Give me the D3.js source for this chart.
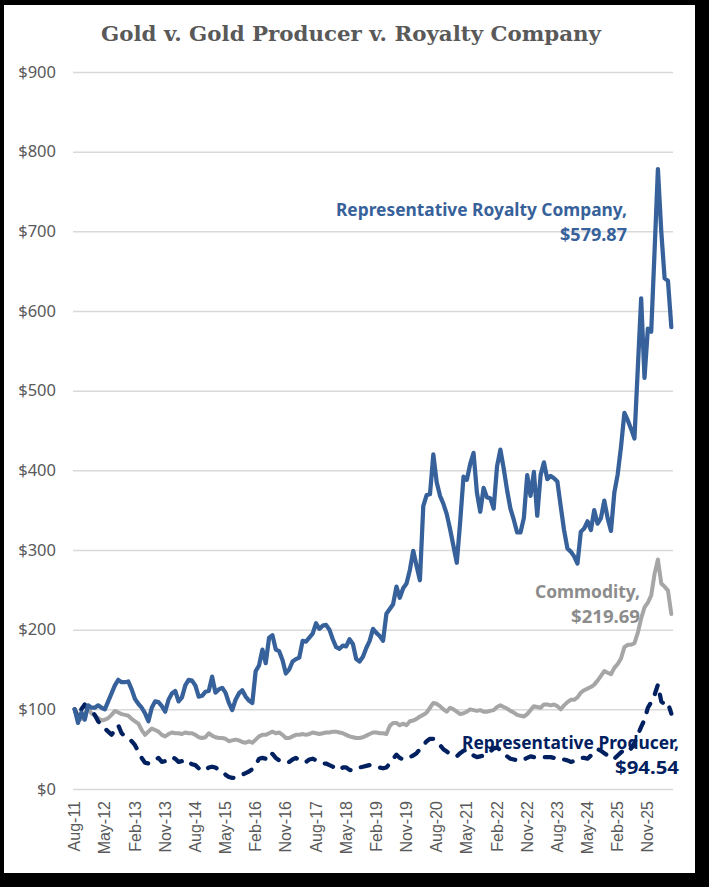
<!DOCTYPE html>
<html>
<head>
<meta charset="utf-8">
<script src="https://cdn.jsdelivr.net/npm/d3@7"></script>
<style>
  html, body { margin: 0; padding: 0; background: #000; }
  svg { display: block; }
</style>
</head>
<body>
<svg id="chart" width="709" height="887"></svg>
<script>
// ---------------- DATA ----------------
const startMonth = new Date(2011, 7, 1); // Aug-11, monthly observations
const tickLabels = ["Aug-11","May-12","Feb-13","Nov-13","Aug-14","May-15","Feb-16","Nov-16","Aug-17","May-18",
                    "Feb-19","Nov-19","Aug-20","May-21","Feb-22","Nov-22","Aug-23","May-24","Feb-25","Nov-25"];
const yTicks = [0,100,200,300,400,500,600,700,800,900];

const royalty = [
100,83,96,87,105,102,102,105,102,100,
110,120,130,137,134,134,135,125,113,107,
102,95,85,102,110,109,104,97,112,120,
123,110,115,130,137,136,130,116,117,122,
123,141,121,125,127,121,108,99,112,120,
124,116,111,108,148,155,175,158,190,193,
175,173,162,145,150,160,163,165,186,185,
190,195,208,201,205,206,200,188,178,176,
180,179,188,182,163,160,166,177,186,201,
196,192,186,220,226,232,254,240,252,258,
275,299,280,262,355,369,370,420,385,368,
358,345,326,305,284,335,392,388,408,422,
372,348,378,366,365,352,405,426,402,375,
352,338,322,322,340,394,368,398,343,394,
410,389,393,390,386,355,325,302,298,292,
283,323,327,336,325,350,333,340,362,340,
324,372,395,430,472,463,452,440,528,616,
516,578,574,675,778,700,641,638,579.87];

const commodity = [
100,93,88,95,100,95,92,89,86,87,
89,93,98,96,94,93,92,88,85,82,
74,68,72,76,74,72,68,66,69,71,
70,70,69,71,70,70,68,65,64,65,
70,67,65,64,64,63,60,61,62,61,
59,58,60,58,62,66,68,68,70,72,
70,71,68,64,64,66,68,68,69,68,
69,71,70,69,70,71,71,72,72,71,
70,68,66,65,64,64,65,67,69,71,
71,70,70,69,79,83,83,80,82,80,
85,86,88,91,93,96,102,108,107,104,
100,97,102,100,97,94,95,97,100,99,
98,99,97,97,98,99,103,105,103,101,
98,96,93,92,91,94,99,104,103,102,
106,106,105,106,104,100,105,109,112,112,
115,121,124,126,128,131,136,142,148,146,
144,152,157,164,178,181,181,183,196,214,
228,234,243,270,288,258,254,249,219.69];

const producer = [
100,88,100,106,100,98,93,85,80,76,
72,68,74,80,70,66,64,60,55,47,
39,33,32,34,37,39,34,35,37,40,
38,34,35,37,34,31,30,26,23,24,
27,28,27,24,22,18,15,14,14,16,
18,20,22,25,30,38,39,38,46,44,
39,36,34,33,34,37,39,36,34,34,
37,38,36,33,32,32,30,28,25,24,
27,27,24,23,25,27,28,29,30,30,
29,27,26,27,32,38,43,39,37,38,
40,42,45,50,55,60,63,63,60,55,
50,47,44,42,41,45,48,49,46,42,
40,41,42,44,47,51,52,49,45,41,
38,37,36,35,37,39,41,40,39,40,
40,40,40,39,38,36,37,36,34,35,
36,39,39,38,42,46,50,48,45,42,
38,38,42,46,49,47,51,58,68,78,
87,102,109,118,131,110,106,108,94.54];

const seriesNames = ["Commodity","Representative Producer","Representative Royalty Company"];
const endLabels = ["$219.69","$94.54","$579.87"];

// ---------------- LAYOUT ----------------
const fmt = d3.timeFormat("%b-%y");
const months = d3.range(royalty.length).map(i => fmt(d3.timeMonth.offset(startMonth, i)));

const svg = d3.select("#chart");
svg.append("rect").attr("x",0).attr("y",0).attr("width",709).attr("height",887).attr("fill","#000");
svg.append("rect").attr("x",4).attr("y",5).attr("width",691).attr("height",868).attr("fill","#fff");

const x = d3.scaleBand().domain(months).range([73, 673]).paddingInner(0).paddingOuter(0);
const y = d3.scaleLinear().domain([0, 900]).range([789, 72]);
const cx = m => x(m) + x.bandwidth() / 2;

// title
svg.append("text")
  .attr("x", 351).attr("y", 41)
  .attr("text-anchor", "middle")
  .attr("font-family", "'DejaVu Serif', serif")
  .attr("font-weight", "bold")
  .attr("font-size", 21)
  .attr("fill", "#595959")
  .attr("textLength", 500)
  .attr("lengthAdjust", "spacingAndGlyphs")
  .text("Gold v. Gold Producer v. Royalty Company");

// gridlines
svg.append("g").attr("transform", "translate(673,0)")
  .call(d3.axisRight(y).tickValues(yTicks).tickSize(-600).tickFormat(""))
  .call(g => g.select(".domain").remove())
  .call(g => g.selectAll(".tick line").attr("stroke", "#D9D9D9").attr("stroke-width", 1.5));

// y labels
svg.append("g").attr("transform", "translate(56,0)")
  .call(d3.axisLeft(y).tickValues(yTicks).tickSize(0).tickPadding(0).tickFormat(d => "$" + d))
  .call(g => g.select(".domain").remove())
  .call(g => g.selectAll("text")
      .attr("font-family", "'Noto Sans', sans-serif")
      .attr("font-size", 16.5)
      .attr("fill", "#595959"));

// x labels
svg.append("g").attr("transform", "translate(0,789)")
  .call(d3.axisBottom(x).tickValues(tickLabels).tickSize(0))
  .call(g => g.select(".domain").remove())
  .call(g => g.selectAll("text")
      .attr("transform", "rotate(-90)")
      .attr("x", -12).attr("y", 0).attr("dy", "0.35em")
      .attr("text-anchor", "end")
      .attr("font-family", "'Liberation Sans', Arial, sans-serif")
      .attr("font-size", 16)
      .attr("fill", "#595959"));

// lines
const line = d3.line().x((d, i) => cx(months[i])).y(d => y(d));

svg.append("path").datum(commodity)
  .attr("d", line).attr("fill", "none")
  .attr("stroke", "#A6A6A6").attr("stroke-width", 4)
  .attr("stroke-linejoin", "round").attr("stroke-linecap", "round");

svg.append("path").datum(producer)
  .attr("d", line).attr("fill", "none")
  .attr("stroke", "#002060").attr("stroke-width", 4.25)
  .attr("stroke-dasharray", "9,11")
  .attr("stroke-linejoin", "round").attr("stroke-linecap", "round");

svg.append("path").datum(royalty)
  .attr("d", line).attr("fill", "none")
  .attr("stroke", "#37619A").attr("stroke-width", 4.25)
  .attr("stroke-linejoin", "round").attr("stroke-linecap", "round");

// end labels
const labelSpecs = [
  {name: seriesNames[2] + ",", val: endLabels[2], color: "#37619A", right: 627, y1: 216, y2: 241, w1: 291, w2: 67},
  {name: seriesNames[0] + ",", val: endLabels[0], color: "#8C8C8C", right: 640, y1: 598, y2: 623, w1: 105, w2: 69},
  {name: seriesNames[1] + ",", val: endLabels[1], color: "#002060", right: 679, y1: 749, y2: 774, w1: 217, w2: 64}
];
labelSpecs.forEach(s => {
  [[s.name, s.y1, s.w1], [s.val, s.y2, s.w2]].forEach(([t, yy, w]) => {
    svg.append("text")
      .attr("x", s.right).attr("y", yy)
      .attr("text-anchor", "end")
      .attr("font-family", "'Noto Sans', sans-serif")
      .attr("font-weight", "bold")
      .attr("font-size", 17.5)
      .attr("fill", s.color)
      .attr("textLength", w)
      .attr("lengthAdjust", "spacingAndGlyphs")
      .text(t);
  });
});
</script>
</body>
</html>
